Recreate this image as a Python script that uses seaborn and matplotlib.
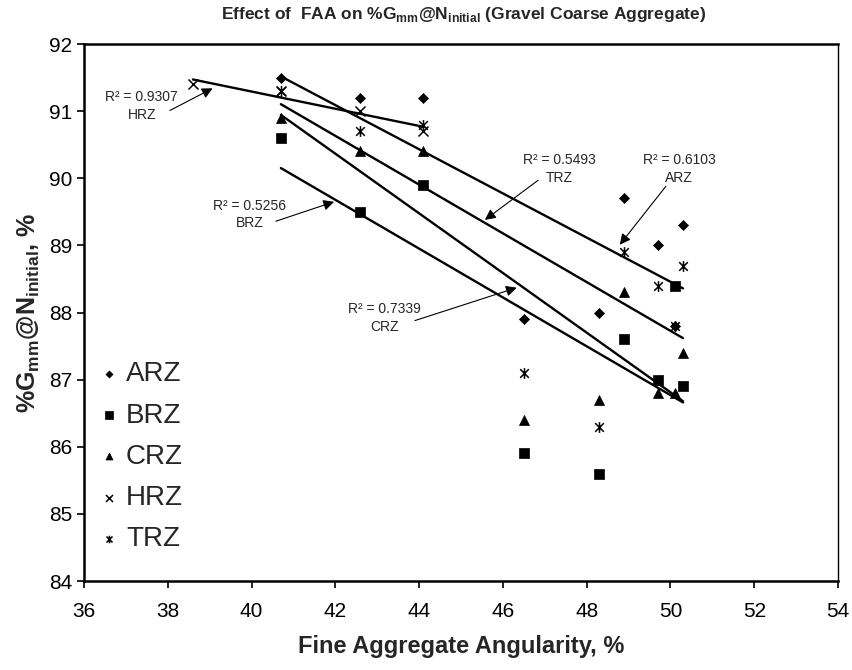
import matplotlib
matplotlib.use("Agg")
import matplotlib.pyplot as plt
from matplotlib.path import Path
import seaborn as sns

# ----------------------------
# Data
# ----------------------------
faa = [40.7, 42.6, 44.1, 46.5, 48.3, 48.9, 49.7, 50.1, 50.3]
arz = [91.5, 91.2, 91.2, 87.9, 88.0, 89.7, 89.0, 87.8, 89.3]
brz = [90.6, 89.5, 89.9, 85.9, 85.6, 87.6, 87.0, 88.4, 86.9]
crz = [90.9, 90.4, 90.4, 86.4, 86.7, 88.3, 86.8, 86.8, 87.4]
trz = [91.3, 90.7, 90.8, 87.1, 86.3, 88.9, 88.4, 87.8, 88.7]
hrz_faa = [38.6, 40.7, 42.6, 44.1]
hrz = [91.4, 91.3, 91.0, 90.7]

zones = ["ARZ", "BRZ", "CRZ", "HRZ", "TRZ"]
r2_text = ["0.6103", "0.5256", "0.7339", "0.9307", "0.5493"]

series = {
    "ARZ": (faa, arz),
    "BRZ": (faa, brz),
    "CRZ": (faa, crz),
    "HRZ": (hrz_faa, hrz),
    "TRZ": (faa, trz),
}

# label centre, arrow tail, arrow head (data coords)
notes = {
    "ARZ": ((50.21, 90.14), (49.89, 89.88), (48.79, 89.01)),
    "BRZ": ((39.95, 89.46), (40.58, 89.36), (41.97, 89.65)),
    "CRZ": ((43.18, 87.92), (43.90, 87.88), (46.33, 88.37)),
    "HRZ": ((37.38, 91.08), (38.05, 91.01), (39.07, 91.34)),
    "TRZ": ((47.34, 90.14), (46.84, 89.97), (45.57, 89.38)),
}

# Excel-style asterisk: an x plus a vertical stroke
asterisk = Path([(-1, -1), (1, 1), (-1, 1), (1, -1), (0, -1.25), (0, 1.25)],
                [Path.MOVETO, Path.LINETO, Path.MOVETO, Path.LINETO, Path.MOVETO, Path.LINETO])

markers = {"ARZ": "D", "BRZ": "s", "CRZ": "^", "HRZ": "x", "TRZ": asterisk}
msize = {"ARZ": 26, "BRZ": 52, "CRZ": 52, "HRZ": 52, "TRZ": 60}

# ----------------------------
# Style
# ----------------------------
sns.set_theme(style="white")
plt.rcParams["font.family"] = ["Liberation Sans", "DejaVu Sans"]
plt.rcParams["mathtext.fontset"] = "custom"
plt.rcParams["mathtext.rm"] = "Liberation Sans"
plt.rcParams["mathtext.bf"] = "Liberation Sans:bold"

fig = plt.figure(figsize=(8.52, 6.70), dpi=100)
ax = fig.add_axes([0.0986, 0.1328, 0.885, 0.8015])

for z in zones:
    xs, ys = series[z]
    lw = 1.1 if z in ("HRZ", "TRZ") else 0.5
    sns.regplot(x=xs, y=ys, ci=None, marker=markers[z], color="black",
                scatter_kws=dict(s=msize[z], alpha=1, linewidths=lw),
                line_kws=dict(lw=1.7), label=z, ax=ax)

for z, r2 in zip(zones, r2_text):
    (tx, ty), tail, head = notes[z]
    ax.annotate("", xy=head, xytext=tail,
                arrowprops=dict(arrowstyle="-|>", color="black", lw=0.8,
                                mutation_scale=16, shrinkA=0, shrinkB=0))
    ax.text(tx, ty, f"R\u00b2 = {r2}\n{z}", ha="center", va="center",
            fontsize=10, linespacing=1.35, multialignment="center")

ax.set_xlim(36, 54)
ax.set_ylim(84, 92)
ax.set_xticks(range(36, 55, 2))
ax.set_yticks(range(84, 93))
ax.tick_params(axis="both", labelsize=15, direction="out", length=5, width=1.2,
               bottom=True, left=True, colors="black")
ax.tick_params(axis="x", pad=10)

for side in ["left", "bottom", "top"]:
    ax.spines[side].set_linewidth(1.8)
    ax.spines[side].set_color("black")
ax.spines["right"].set_linewidth(1.0)
ax.spines["right"].set_color("black")

ax.set_xlabel("Fine Aggregate Angularity, %", fontsize=17, fontweight="bold", labelpad=10)
ax.set_ylabel(r"%G$_{\mathregular{mm}}$@N$_{\mathregular{initial}}$, %",
              fontsize=18, fontweight="bold", labelpad=5)

fig.text(0.544, 0.978,
         r"Effect of  FAA on %G$_{\mathregular{mm}}$@N$_{\mathregular{initial}}$ (Gravel Coarse Aggregate)",
         ha="center", va="center", fontsize=12.5, fontweight="bold")

ax.legend(loc="upper left", bbox_to_anchor=(0.004, 0.43), frameon=False, fontsize=20,
          markerscale=0.7, handlelength=0.8, handletextpad=0.2, labelspacing=0.55,
          borderaxespad=0)

fig.savefig("out.png", dpi=100)
